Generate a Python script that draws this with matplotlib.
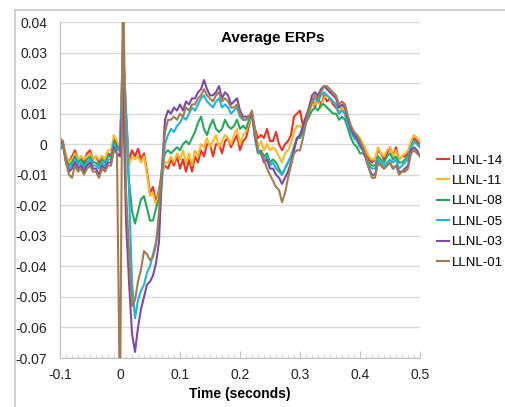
import numpy as np
import matplotlib
matplotlib.use("Agg")
import matplotlib.pyplot as plt
from matplotlib.lines import Line2D
from matplotlib.ticker import MultipleLocator

plt.rcParams['font.family'] = ['Liberation Sans', 'DejaVu Sans']

# time axis, 5 ms steps from -0.1 s to 0.5 s
time_s = np.round(np.arange(-0.1, 0.5001, 0.005), 3)

labels = ['LLNL-14', 'LLNL-11', 'LLNL-08', 'LLNL-05', 'LLNL-03', 'LLNL-01']
colors = ['#ee3124', '#fdb92a', '#22aa5a', '#1cb5de', '#7d48a8', '#a57b4e']

llnl_14 = [
    0.001, 0.000, -0.004, -0.006, -0.004, -0.002, -0.005, -0.004, -0.006, -0.003,
    -0.002, -0.005, -0.004, -0.006, -0.004, -0.005, -0.003, -0.004, 0.002, 0.000,
    -0.002, 0.034, 0.010, -0.006, -0.002, -0.004, -0.0015, -0.005, -0.003, -0.009,
    -0.016, -0.014, -0.019, -0.015, -0.009, -0.007, -0.008, -0.005, -0.007, -0.004,
    -0.008, -0.005, -0.009, -0.005, -0.009, -0.004, -0.006, -0.002, -0.004, 0.000,
    0.000, -0.004, 0.000, 0.000, -0.003, 0.001, 0.002, -0.001, 0.001, 0.003,
    -0.002, 0.001, 0.002, 0.006, 0.010, 0.005, 0.002, 0.003, 0.002, 0.005,
    0.001, 0.001, 0.004, 0.000, -0.002, 0.000, 0.001, 0.003, 0.009, 0.010,
    0.011, 0.006, 0.009, 0.011, 0.015, 0.012, 0.016, 0.012, 0.016, 0.014,
    0.015, 0.013, 0.012, 0.010, 0.012, 0.010, 0.006, 0.004, 0.003, 0.002,
    0.001, -0.001, -0.003, -0.005, -0.006, -0.005, -0.002, -0.003, -0.005, -0.003,
    -0.001, -0.004, -0.001, -0.005, -0.004, -0.004, -0.003, 0.000, 0.002, 0.001,
    0.000]

llnl_11 = [
    0.001, 0.000, -0.004, -0.006, -0.005, -0.003, -0.005, -0.004, -0.005, -0.004,
    -0.003, -0.005, -0.004, -0.005, -0.004, -0.005, -0.002, -0.002, 0.003, 0.001,
    -0.001, 0.032, 0.006, -0.007, -0.004, -0.005, -0.004, -0.006, -0.004, -0.010,
    -0.017, -0.016, -0.020, -0.016, -0.010, -0.006, -0.006, -0.004, -0.006, -0.003,
    -0.005, -0.002, -0.006, -0.003, -0.007, -0.002, -0.004, 0.000, -0.001, 0.002,
    -0.001, 0.001, 0.003, -0.001, 0.001, 0.003, 0.002, 0.000, 0.003, 0.005,
    0.000, 0.003, 0.004, 0.007, 0.010, 0.004, -0.001, 0.001, -0.002, 0.000,
    -0.002, -0.001, -0.002, -0.004, -0.006, -0.003, -0.002, 0.000, 0.004, 0.006,
    0.006, 0.005, 0.008, 0.010, 0.013, 0.013, 0.014, 0.012, 0.015, 0.016,
    0.015, 0.014, 0.013, 0.010, 0.012, 0.011, 0.007, 0.005, 0.004, 0.003,
    0.002, 0.000, -0.002, -0.004, -0.005, -0.005, -0.001, -0.003, -0.004, -0.002,
    -0.001, -0.004, -0.002, -0.005, -0.004, -0.003, -0.002, 0.001, 0.003, 0.002,
    0.001]

llnl_08 = [
    -0.002, 0.000, -0.005, -0.007, -0.006, -0.004, -0.006, -0.005, -0.007, -0.005,
    -0.004, -0.006, -0.006, -0.007, -0.005, -0.006, -0.004, -0.004, 0.001, -0.001,
    -0.002, 0.027, 0.005, -0.012, -0.022, -0.026, -0.022, -0.018, -0.017, -0.021,
    -0.025, -0.025, -0.021, -0.018, -0.008, -0.003, -0.002, -0.003, -0.002, -0.001,
    -0.002, 0.000, 0.001, 0.000, 0.002, 0.004, 0.007, 0.009, 0.005, 0.003,
    0.006, 0.008, 0.005, 0.004, 0.005, 0.008, 0.006, 0.005, 0.006, 0.008,
    0.005, 0.006, 0.005, 0.008, 0.010, 0.002, -0.003, -0.002, -0.004, -0.003,
    -0.006, -0.005, -0.006, -0.008, -0.010, -0.008, -0.006, -0.004, -0.001, 0.002,
    0.002, 0.004, 0.007, 0.009, 0.011, 0.012, 0.011, 0.013, 0.013, 0.012,
    0.011, 0.010, 0.010, 0.008, 0.009, 0.008, 0.005, 0.002, 0.000, -0.001,
    -0.003, -0.003, -0.004, -0.006, -0.007, -0.007, -0.004, -0.005, -0.006, -0.004,
    -0.003, -0.005, -0.004, -0.006, -0.006, -0.005, -0.004, -0.001, 0.001, 0.000,
    -0.001]

llnl_05 = [
    -0.001, 0.000, -0.006, -0.008, -0.007, -0.005, -0.007, -0.006, -0.008, -0.006,
    -0.005, -0.007, -0.007, -0.008, -0.006, -0.007, -0.005, -0.005, 0.000, -0.002,
    -0.002, 0.030, 0.012, -0.015, -0.045, -0.057, -0.051, -0.048, -0.046, -0.042,
    -0.040, -0.036, -0.032, -0.027, -0.012, 0.000, 0.003, 0.005, 0.004, 0.006,
    0.007, 0.009, 0.008, 0.010, 0.012, 0.011, 0.013, 0.015, 0.016, 0.014,
    0.013, 0.012, 0.014, 0.015, 0.012, 0.013, 0.012, 0.010, 0.011, 0.012,
    0.009, 0.008, 0.008, 0.009, 0.010, 0.002, -0.003, -0.003, -0.005, -0.004,
    -0.007, -0.006, -0.008, -0.009, -0.010, -0.008, -0.006, -0.004, -0.001, 0.002,
    0.003, 0.005, 0.008, 0.011, 0.014, 0.015, 0.014, 0.016, 0.017, 0.016,
    0.015, 0.014, 0.013, 0.010, 0.011, 0.010, 0.006, 0.004, 0.002, 0.001,
    -0.001, -0.002, -0.004, -0.007, -0.008, -0.008, -0.005, -0.006, -0.007, -0.006,
    -0.005, -0.006, -0.005, -0.008, -0.007, -0.006, -0.005, -0.001, 0.001, 0.000,
    -0.001]

llnl_03 = [
    0.001, 0.000, -0.006, -0.009, -0.008, -0.006, -0.008, -0.007, -0.009, -0.007,
    -0.006, -0.008, -0.008, -0.010, -0.007, -0.008, -0.006, -0.006, -0.001, -0.003,
    -0.004, 0.018, -0.025, -0.045, -0.062, -0.068, -0.060, -0.054, -0.050, -0.046,
    -0.045, -0.043, -0.039, -0.032, -0.008, 0.008, 0.011, 0.010, 0.012, 0.011,
    0.013, 0.011, 0.014, 0.013, 0.015, 0.015, 0.017, 0.018, 0.021, 0.018,
    0.016, 0.016, 0.017, 0.019, 0.015, 0.017, 0.016, 0.013, 0.014, 0.015,
    0.011, 0.009, 0.009, 0.009, 0.010, 0.003, -0.002, -0.003, -0.006, -0.005,
    -0.008, -0.008, -0.010, -0.011, -0.013, -0.011, -0.009, -0.006, -0.002, 0.002,
    0.003, 0.006, 0.009, 0.012, 0.016, 0.017, 0.016, 0.018, 0.019, 0.018,
    0.017, 0.016, 0.015, 0.012, 0.013, 0.012, 0.008, 0.005, 0.003, 0.002,
    0.000, -0.002, -0.005, -0.008, -0.010, -0.010, -0.006, -0.007, -0.008, -0.007,
    -0.006, -0.008, -0.007, -0.009, -0.009, -0.008, -0.007, -0.002, -0.001, -0.002,
    -0.004]

llnl_01 = [
    0.002, 0.001, -0.006, -0.010, -0.011, -0.007, -0.009, -0.008, -0.010, -0.008,
    -0.007, -0.009, -0.009, -0.011, -0.008, -0.009, -0.007, -0.007, -0.002, -0.003,
    -0.090, 0.060, -0.015, -0.035, -0.053, -0.051, -0.045, -0.041, -0.035, -0.036,
    -0.038, -0.037, -0.033, -0.022, -0.008, 0.004, 0.008, 0.008, 0.009, 0.008,
    0.010, 0.009, 0.012, 0.011, 0.013, 0.013, 0.015, 0.016, 0.018, 0.016,
    0.015, 0.014, 0.016, 0.017, 0.014, 0.015, 0.014, 0.012, 0.012, 0.013,
    0.010, 0.008, 0.008, 0.009, 0.011, 0.004, -0.002, -0.003, -0.005, -0.008,
    -0.010, -0.012, -0.014, -0.015, -0.019, -0.016, -0.011, -0.007, -0.003, -0.002,
    -0.002, 0.002, 0.007, 0.011, 0.014, 0.016, 0.015, 0.017, 0.019, 0.019,
    0.018, 0.017, 0.016, 0.013, 0.014, 0.013, 0.009, 0.006, 0.004, 0.003,
    0.001, -0.001, -0.004, -0.008, -0.011, -0.011, -0.006, -0.007, -0.008, -0.007,
    -0.006, -0.008, -0.007, -0.010, -0.009, -0.009, -0.008, -0.003, -0.002, -0.003,
    -0.004]

series = [llnl_14, llnl_11, llnl_08, llnl_05, llnl_03, llnl_01]

y_ticks = [0.04, 0.03, 0.02, 0.01, 0.0, -0.01, -0.02, -0.03, -0.04, -0.05, -0.06, -0.07]
y_tick_labels = ['0.04', '0.03', '0.02', '0.01', '0', '-0.01', '-0.02', '-0.03',
                 '-0.04', '-0.05', '-0.06', '-0.07']
x_ticks = [-0.1, 0.0, 0.1, 0.2, 0.3, 0.4, 0.5]
x_tick_labels = ['-0.1', '0', '0.1', '0.2', '0.3', '0.4', '0.5']

W, H = 506, 407
fig = plt.figure(figsize=(W / 100, H / 100), dpi=100)
ax = fig.add_axes([60 / W, 1 - 358 / H, 360 / W, 336 / H])

for vals, lab, col in zip(series, labels, colors):
    ax.plot(time_s, vals, color=col, lw=1.5, label=lab)

ax.set_xlim(-0.1, 0.5)
ax.set_ylim(-0.07, 0.04)
ax.set_yticks(y_ticks)
ax.set_yticklabels(y_tick_labels)
ax.set_xticks(x_ticks)
ax.set_xticklabels(x_tick_labels)
ax.xaxis.set_minor_locator(MultipleLocator(0.01))
ax.grid(axis='y', color='#d9d9d9', lw=1.0)
ax.set_axisbelow(True)

for s in ['top', 'right']:
    ax.spines[s].set_visible(False)
for s in ['left', 'bottom']:
    ax.spines[s].set_color('#bfbfbf')
ax.tick_params(axis='x', which='major', direction='in', length=5, color='#bfbfbf',
               labelsize=10, pad=7, labelcolor='#222222')
ax.tick_params(axis='x', which='minor', direction='in', length=2.5, color='#bfbfbf')
ax.tick_params(axis='y', length=0, labelsize=10, pad=9, labelcolor='#222222')

ax.set_xlabel('Time (seconds)', fontsize=10, fontweight='bold', labelpad=4)
ax.text(0.59, 0.952, 'Average ERPs', transform=ax.transAxes, ha='center', va='center',
        fontsize=11, fontweight='bold')

fig.legend(loc='center left', bbox_to_anchor=(437 / W, 1 - 211.5 / H), frameon=False,
           fontsize=9.5, handlelength=0.9, handletextpad=0.2, labelspacing=0.62,
           borderpad=0, borderaxespad=0)

# outer chart frame (cropped at right and bottom)
fig.add_artist(Line2D([15 / W, 1.0], [1 - 10 / H, 1 - 10 / H], color='#c8c8c8', lw=1.2))
fig.add_artist(Line2D([15 / W, 15 / W], [0.0, 1 - 10 / H], color='#c8c8c8', lw=1.2))

fig.savefig('out.png', dpi=100)
